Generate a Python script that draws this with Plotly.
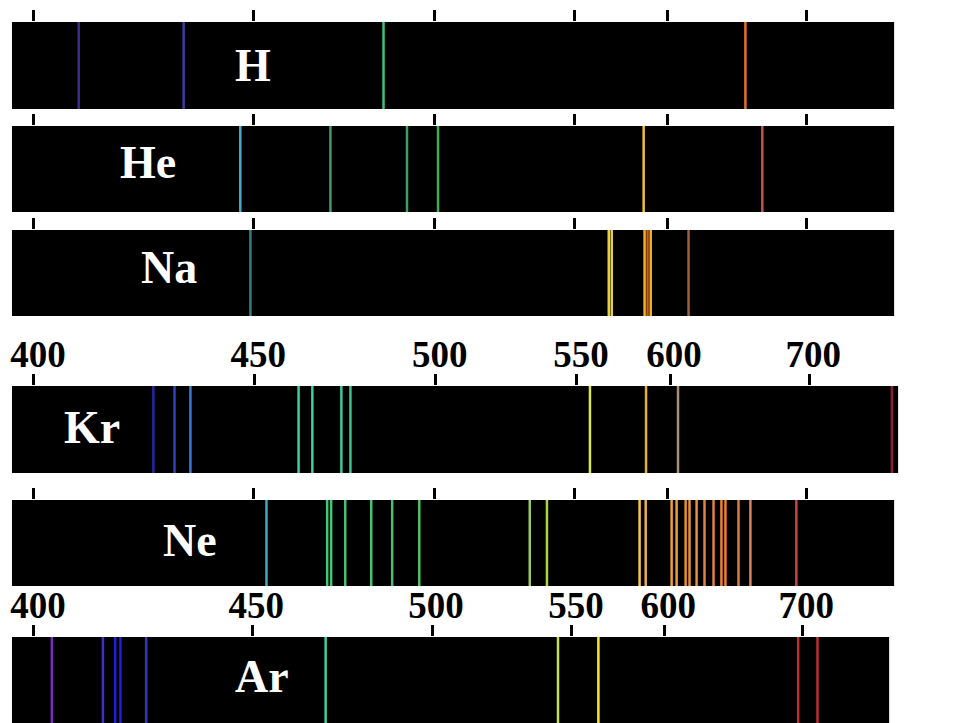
import plotly.graph_objects as go

W, H = 956, 723

# Calibration of the prism scale: wavelength (nm) -> scale position
CAL_NM = [400, 450, 500, 550, 600, 700]
CAL_POS = [32, 252, 433, 574, 667, 806]
TICK_TEXT = ["400", "450", "500", "550", "600", "700"]

ELEMENTS = ["H", "He", "Na", "Kr", "Ne", "Ar"]

H_NM = [410.2, 434.1, 486.0, 656.1]
H_COL = ["#3a2d8c", "#3c3ca0", "#3fbf7f", "#e8702a"]

HE_NM = [447.0, 471.3, 492.5, 501.4, 587.1, 668.3]
HE_COL = ["#4aa8c8", "#3c9c6a", "#3ca060", "#3cb04a", "#f0c030", "#c85050"]

NA_NM = [449.3, 568.3, 569.9, 587.6, 589.2, 590.9, 615.1]
NA_COL = ["#2f7f80", "#e8d040", "#e8d040", "#f0b030", "#c06010", "#f0b030", "#a0603c"]

KR_NM = [427.1, 431.9, 435.5, 462.2, 466.0, 474.0, 476.5, 557.0, 587.1, 605.7, 759.3]
KR_COL = ["#2626a8", "#3040b8", "#3a78d8", "#3fd0a0", "#3fd0a0", "#3fc8a0", "#3fc090",
          "#d8e848", "#e8b030", "#a89078", "#8a2038"]

NE_NM = [453.6, 470.4, 471.5, 475.4, 482.6, 488.4, 495.9, 534.0, 540.1, 584.9, 588.2,
         602.9, 606.5, 613.0, 615.8, 620.9, 626.6, 633.1, 638.8, 641.7, 651.1, 659.7, 692.8]
NE_COL = ["#40a8c0", "#40c878", "#40c878", "#48c070", "#48c070", "#48c070", "#50c060",
          "#98c868", "#a8d840", "#f8c840", "#f0b050", "#f0a030", "#e8a040", "#e89030",
          "#e89040", "#e89040", "#e88040", "#e08040", "#f08030", "#f08030", "#e07840",
          "#d88060", "#d04040"]

AR_NM = [404.1, 415.8, 418.6, 419.8, 425.7, 470.4, 545.0, 564.3, 697.0, 711.0]
AR_COL = ["#7030c0", "#3a30c8", "#2020d8", "#2020d8", "#3038c0", "#40d0a0", "#c8e048",
          "#f8e830", "#b83030", "#b83030"]

ROW_NM = [H_NM, HE_NM, NA_NM, KR_NM, NE_NM, AR_NM]
ROW_COL = [H_COL, HE_COL, NA_COL, KR_COL, NE_COL, AR_COL]

# layout (pixels): strip x0, x1, y0, y1, scale factor, show tick labels
ROWS = [
    (10, 894, 22, 109, 1.0, False),
    (10, 894, 126, 212, 1.0, False),
    (10, 894, 230, 316, 1.0, False),
    (10, 898, 386, 473, 1.0039, True),
    (10, 894, 500, 586, 1.0, False),
    (10, 889, 637, 723, 0.9948, True),
]
LABEL_POS = [(252, 65), (146, 163), (167, 267), (90, 427), (188, 540), (261, 676)]


def nm_to_pos(nm):
    n, p = CAL_NM, CAL_POS
    if nm <= n[0]:
        i = 0
    elif nm >= n[-1]:
        i = len(n) - 2
    else:
        i = max(k for k in range(len(n) - 1) if n[k] <= nm)
    return p[i] + (nm - n[i]) * (p[i + 1] - p[i]) / (n[i + 1] - n[i])


fig = go.Figure()
layout = dict(
    width=W, height=H, margin=dict(l=0, r=0, t=0, b=0),
    paper_bgcolor="white", plot_bgcolor="black", showlegend=False,
)
annotations = []
for r, (x0, x1, y0, y1, s, showlab) in enumerate(ROWS):
    k = "" if r == 0 else str(r + 1)
    xa, ya = "xaxis" + k, "yaxis" + k
    rng = [32 + (x0 - 32) / s, 32 + (x1 - 32) / s]
    layout[xa] = dict(
        domain=[x0 / W, x1 / W], range=rng, anchor="y" + k, side="top",
        tickmode="array", tickvals=[nm_to_pos(v) for v in CAL_NM], ticktext=TICK_TEXT,
        ticks="outside", ticklen=11, tickwidth=3, tickcolor="black",
        showticklabels=showlab, showgrid=False, zeroline=False, showline=False,
        ticklabelshift=4, ticklabelstandoff=-8,
        tickfont=dict(family="Liberation Serif", size=37, color="black", weight="bold"),
    )
    layout[ya] = dict(domain=[1 - y1 / H, 1 - y0 / H], range=[0, 1], anchor="x" + k,
                      visible=False, fixedrange=True)
    for nm, col in zip(ROW_NM[r], ROW_COL[r]):
        p = nm_to_pos(nm)
        fig.add_trace(go.Scatter(x=[p, p], y=[0, 1], mode="lines",
                                 line=dict(color=col, width=2.5),
                                 xaxis="x" + k, yaxis="y" + k, hoverinfo="skip"))
    lx, ly = LABEL_POS[r]
    annotations.append(dict(
        text=ELEMENTS[r], x=lx / W, y=1 - ly / H, xref="paper", yref="paper",
        xanchor="center", yanchor="middle", showarrow=False, yshift=0,
        font=dict(family="Liberation Serif", size=46, color="white", weight="bold"),
    ))
layout["annotations"] = annotations
fig.update_layout(**layout)
fig.write_html(
    "out.html",
    config={"displayModeBar": False, "staticPlot": True},
    post_script="document.body.style.margin='0';document.body.style.overflow='hidden';",
)
